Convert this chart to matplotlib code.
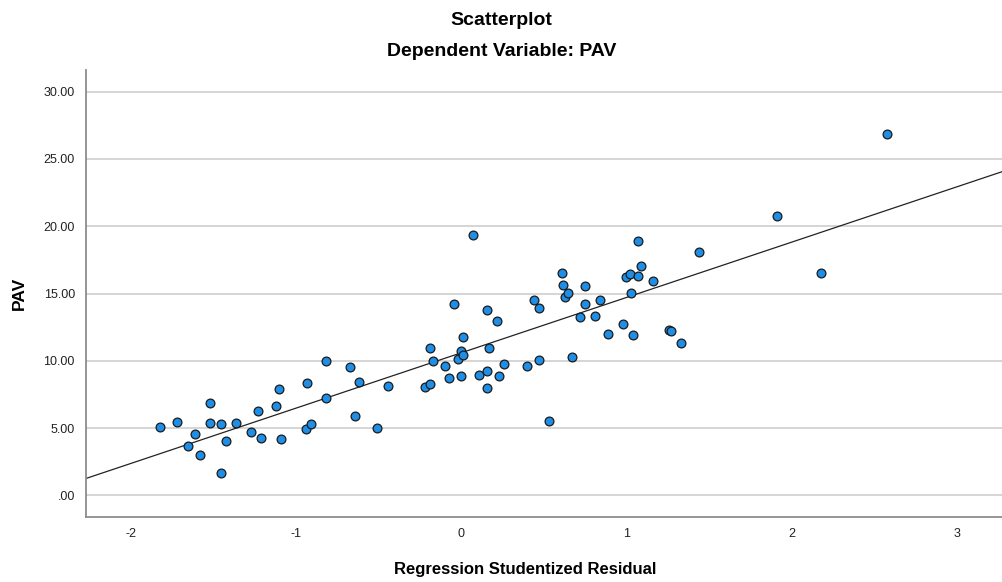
import matplotlib
matplotlib.use('Agg')
import matplotlib.pyplot as plt
import numpy as np

plt.rcParams['font.family'] = ['Liberation Sans', 'DejaVu Sans']

# studentized residuals (x) and PAV (y)
resid = [-1.82, -1.72, -1.65, -1.61, -1.58, -1.52, -1.52, -1.45, -1.45, -1.42,
         -1.36, -1.27, -1.23, -1.21, -1.12, -1.10, -1.09, -0.94, -0.93, -0.91,
         -0.82, -0.82, -0.67, -0.64, -0.62, -0.51, -0.44, -0.22, -0.19, -0.19,
         -0.17, -0.10, -0.07, -0.04, -0.02, 0.00, 0.01, 0.01, 0.00, 0.07,
         0.11, 0.16, 0.17, 0.16, 0.16, 0.22, 0.23, 0.26, 0.40, 0.44,
         0.47, 0.47, 0.53, 0.61, 0.62, 0.63, 0.65, 0.67, 0.72, 0.75,
         0.75, 0.81, 0.84, 0.89, 0.98, 1.00, 1.02, 1.03, 1.04, 1.07,
         1.07, 1.09, 1.16, 1.26, 1.27, 1.33, 1.44, 1.91, 2.18, 2.58]
pav = [5.06, 5.43, 3.65, 4.57, 2.99, 6.86, 5.36, 5.31, 1.68, 4.07,
       5.36, 4.74, 6.30, 4.27, 6.67, 7.93, 4.20, 4.96, 8.35, 5.28,
       10.02, 7.23, 9.53, 5.88, 8.44, 4.99, 8.15, 8.05, 8.25, 10.94,
       10.02, 9.63, 8.74, 14.22, 10.12, 10.74, 10.44, 11.75, 8.89, 19.38,
       8.94, 13.78, 10.94, 9.28, 7.95, 12.94, 8.84, 9.76, 9.61, 14.52,
       13.90, 10.05, 5.50, 16.52, 15.63, 14.72, 15.06, 10.30, 13.23, 15.53,
       14.22, 13.31, 14.52, 12.02, 12.74, 16.20, 16.44, 15.04, 11.93, 16.30,
       18.89, 17.01, 15.93, 12.32, 12.20, 11.31, 18.10, 20.79, 16.52, 26.84]

# fit line shown in the reference
intercept = 10.59
slope = 4.11

yticks = [0, 5, 10, 15, 20, 25, 30]
ytick_labels = ['.00', '5.00', '10.00', '15.00', '20.00', '25.00', '30.00']
xticks = [-2, -1, 0, 1, 2, 3]

fig = plt.figure(figsize=(10.03, 5.82), dpi=100)
ax = fig.add_axes([0.0857, 0.1117, 0.9143, 0.768])

xlim = (-2.27, 3.28)
ax.set_xlim(*xlim)
ax.set_ylim(-1.6, 31.6)

for y in yticks:
    ax.axhline(y, color='#d2d2d2', linewidth=1.3, zorder=0)

xl = np.array(xlim)
ax.plot(xl, intercept + slope * xl, color='#222222', linewidth=0.9, zorder=2)

ax.scatter(resid, pav, s=40, facecolor='#1f8ee6', edgecolor='#1a1a1a',
           linewidth=0.9, zorder=3)

ax.set_xticks(xticks)
ax.set_xticklabels([str(t) for t in xticks])
ax.set_yticks(yticks)
ax.set_yticklabels(ytick_labels)
ax.tick_params(length=0, labelsize=9, colors='#222222', pad=8)

for s in ['top', 'right']:
    ax.spines[s].set_visible(False)
for s in ['left', 'bottom']:
    ax.spines[s].set_color('#8c8c8c')
    ax.spines[s].set_linewidth(1.3)

ax.set_ylabel('PAV', fontsize=12.5, fontweight='bold', labelpad=12)
fig.text(0.524, 0.022, 'Regression Studentized Residual', ha='center',
         va='center', fontsize=12, fontweight='bold')

fig.text(0.5, 0.965, 'Scatterplot', ha='center', va='center',
         fontsize=14, fontweight='bold')
fig.text(0.5, 0.912, 'Dependent Variable: PAV', ha='center', va='center',
         fontsize=14, fontweight='bold')

fig.savefig('out.png', dpi=100)
